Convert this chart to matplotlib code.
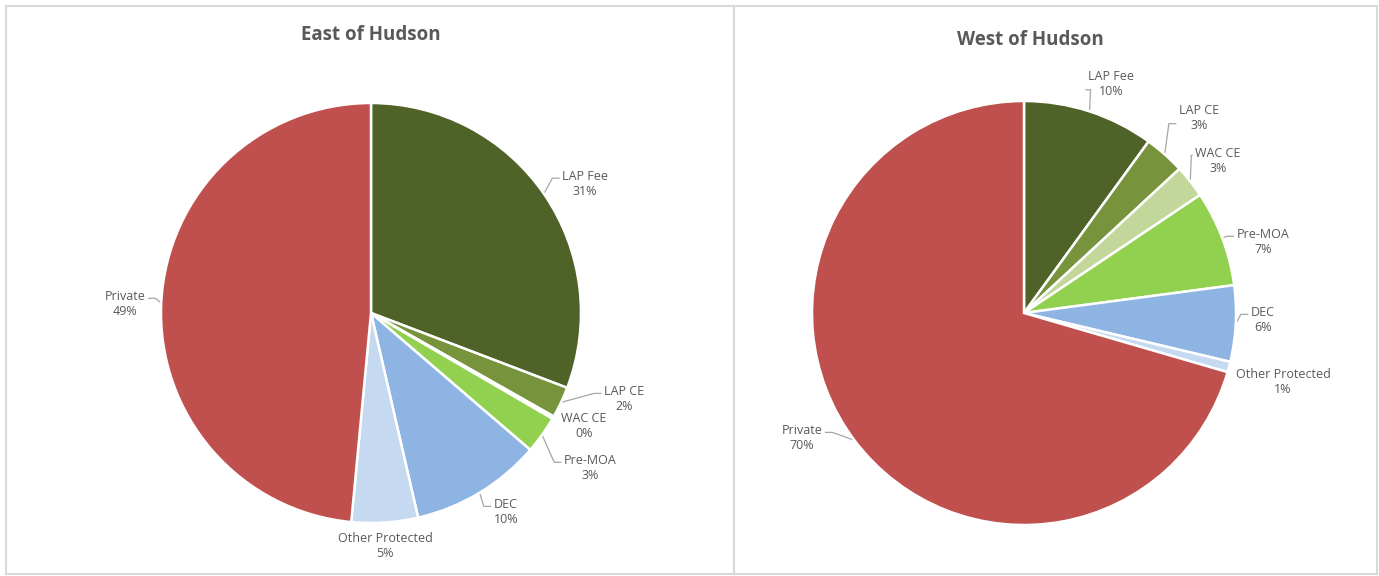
import matplotlib
matplotlib.use("Agg")
import matplotlib.pyplot as plt
import numpy as np

# ---------------- data ----------------
categories = ["LAP Fee", "LAP CE", "WAC CE", "Pre-MOA", "DEC", "Other Protected", "Private"]
east_values = [30.8, 2.4, 0.2, 2.9, 10.1, 5.1, 48.5]
west_values = [10.0, 3.1, 2.5, 7.3, 5.8, 0.8, 70.5]
east_labels = ["31%", "2%", "0%", "3%", "10%", "5%", "49%"]
west_labels = ["10%", "3%", "3%", "7%", "6%", "1%", "70%"]
titles = ["East of Hudson", "West of Hudson"]

colors = ["#4F6228", "#77933C", "#C4D79B", "#92D050", "#8DB4E2", "#C5D9F1", "#C0504D"]

# ---------------- layout (pixels / pie-radius units) ----------------
W, H = 1379, 576
TEXT = "#595959"
LEADER = "#A6A6A6"
FONT = ["Open Sans", "DejaVu Sans"]

panels = [
    dict(x0=6, x1=734, y0=6, y1=574, cx=371, cy=313, r=210),
    dict(x0=734, x1=1377, y0=6, y1=574, cx=1024, cy=313, r=212),
]
title_pos = [(0.0, 1.325), (0.03, 1.29)]
label_pos = [
    [(1.02, 0.615), (1.205, -0.41), (1.014, -0.538), (1.045, -0.738),
     (0.643, -0.948), (0.067, -1.11), (-1.171, 0.043)],
    [(0.41, 1.08), (0.825, 0.92), (0.915, 0.717), (1.127, 0.335),
     (1.127, -0.033), (1.222, -0.325), (-1.047, -0.59)],
]
leader_on = [
    [True, True, False, True, True, False, True],
    [True, True, True, True, True, False, True],
]

fig = plt.figure(figsize=(W / 100, H / 100), dpi=100)
fig.patch.set_facecolor("white")

all_values = [east_values, west_values]
all_pct = [east_labels, west_labels]

axes = []
for i, p in enumerate(panels):
    ax = fig.add_axes([p["x0"] / W, 1 - p["y1"] / H, (p["x1"] - p["x0"]) / W, (p["y1"] - p["y0"]) / H])
    vals = all_values[i]
    wedges, _ = ax.pie(vals, colors=colors, startangle=90, counterclock=False,
                       wedgeprops=dict(edgecolor="white", linewidth=1.8))
    r = p["r"]
    ax.set_aspect("auto")
    ax.set_xlim(-(p["cx"] - p["x0"]) / r, (p["x1"] - p["cx"]) / r)
    ax.set_ylim(-(p["y1"] - p["cy"]) / r, (p["cy"] - p["y0"]) / r)
    ax.set_frame_on(True)
    for s in ax.spines.values():
        s.set_color("#D9D9D9")
        s.set_linewidth(1.5)
    ax.set_xticks([])
    ax.set_yticks([])
    tx, ty = title_pos[i]
    ax.text(tx, ty, titles[i], ha="center", va="center", fontsize=13.5,
            fontweight="bold", color=TEXT, family=FONT)
    axes.append((ax, wedges))

texts = []
for i, (ax, wedges) in enumerate(axes):
    for j, cat in enumerate(categories):
        lx, ly = label_pos[i][j]
        t = ax.text(lx, ly, f"{cat}\n{all_pct[i][j]}", ha="center", va="center",
                    fontsize=9, color=TEXT, family=FONT, linespacing=1.25)
        texts.append((i, j, t))

fig.canvas.draw()
renderer = fig.canvas.get_renderer()
for i, j, t in texts:
    if not leader_on[i][j]:
        continue
    ax, wedges = axes[i]
    w = wedges[j]
    mid = np.deg2rad((w.theta1 + w.theta2) / 2)
    px, py = np.cos(mid), np.sin(mid)
    bb = t.get_window_extent(renderer).transformed(ax.transData.inverted())
    lx, ly = label_pos[i][j]
    h = bb.y1 - bb.y0
    if ly > py + 0.1:
        ey = bb.y0 + h * 0.3   # attach to the percentage line
    else:
        ey = bb.y1 - h * 0.3   # attach to the name line
    if px >= 0:
        ex = bb.x0 - 0.012
        qx = max(px + 0.005, ex - 0.035)
    else:
        ex = bb.x1 + 0.012
        qx = min(px - 0.005, ex + 0.035)
    ax.plot([px, qx, ex], [py, ey, ey], color=LEADER, lw=0.9, solid_capstyle="butt", zorder=0.5)

fig.savefig("out.png", dpi=100, facecolor="white")
